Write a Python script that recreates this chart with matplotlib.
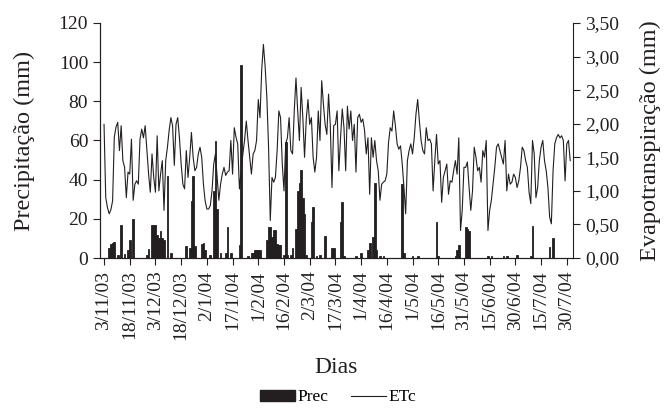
import matplotlib
matplotlib.use('Agg')
import matplotlib.pyplot as plt
import matplotlib.dates as mdates
from matplotlib.patches import Patch
from matplotlib.lines import Line2D
import pandas as pd

# Daily crop evapotranspiration (mm), from 3/11/2003 to 1/8/2004
etc_start = '2003-11-03'
etc_mm = [
    1.99, 0.90, 0.75, 0.66, 0.72, 0.85, 1.80, 1.95, 2.02, 1.60,
    1.97, 1.45, 1.35, 0.90, 1.28, 1.25, 1.77, 0.86, 1.10, 1.15,
    1.10, 1.77, 1.92, 1.79, 1.97, 1.60, 1.25, 0.98, 1.55, 1.20,
    0.98, 1.82, 1.00, 1.25, 1.45, 0.71, 1.45, 1.65, 1.90, 2.09,
    1.97, 1.38, 1.99, 2.09, 1.79, 1.40, 1.10, 1.03, 1.60, 1.20,
    1.50, 1.87, 1.50, 1.30, 1.35, 1.55, 1.65, 1.50, 1.10, 0.85,
    0.73, 0.73, 0.78, 1.00, 1.40, 1.55, 1.20, 0.86, 1.10, 1.25,
    1.35, 1.23, 1.28, 1.30, 1.75, 1.25, 1.94, 1.80, 1.70, 1.03,
    1.30, 1.55, 1.75, 2.04, 1.75, 1.50, 1.25, 1.55, 1.60, 1.75,
    2.36, 2.09, 2.80, 3.18, 2.85, 2.40, 1.65, 0.56, 1.20, 1.13,
    1.20, 1.60, 2.19, 2.09, 1.40, 1.00, 1.70, 1.79, 2.09, 1.60,
    1.55, 2.19, 2.68, 2.19, 1.75, 2.54, 2.09, 1.50, 2.07, 2.36,
    1.99, 2.09, 1.50, 1.28, 1.50, 2.19, 1.75, 2.64, 2.29, 1.99,
    1.84, 2.44, 1.99, 1.05, 1.97, 1.99, 2.19, 1.30, 1.79, 2.22,
    1.94, 1.30, 2.26, 1.92, 2.19, 1.75, 1.99, 1.28, 2.09, 2.14,
    2.02, 2.07, 1.90, 1.55, 1.79, 0.95, 1.79, 1.50, 1.75, 1.45,
    1.30, 0.86, 1.10, 1.13, 1.15, 1.25, 1.72, 1.94, 1.89, 2.19,
    1.97, 1.70, 1.62, 1.67, 1.40, 1.05, 0.66, 1.45, 1.60, 1.70,
    1.55, 1.79, 2.14, 2.36, 2.04, 1.75, 1.60, 1.55, 1.94, 1.75,
    1.77, 1.70, 1.00, 1.45, 1.84, 1.40, 1.45, 0.83, 1.20, 1.30,
    1.40, 0.95, 1.15, 1.13, 1.30, 1.45, 1.25, 1.79, 0.41, 0.71,
    1.35, 1.35, 1.43, 1.05, 0.71, 1.00, 1.65, 1.50, 1.30, 1.35,
    1.13, 1.60, 1.50, 1.75, 0.41, 0.71, 0.86, 1.10, 1.35, 1.65,
    1.70, 1.60, 1.50, 1.40, 1.75, 1.00, 1.25, 1.10, 1.13, 1.25,
    1.20, 1.05, 1.15, 1.35, 1.65, 1.60, 1.45, 1.35, 0.98, 0.81,
    1.75, 1.55, 0.90, 1.05, 1.45, 1.65, 1.75, 1.45, 1.30, 1.05,
    0.61, 0.51, 1.30, 1.70, 1.79, 1.84, 1.79, 1.82, 1.75, 1.15,
    1.70, 1.75, 1.45,
]

# Rain days (mm)
prec_dates = [
    '2003-11-06', '2003-11-07', '2003-11-08', '2003-11-09', '2003-11-11',
    '2003-11-13', '2003-11-15', '2003-11-17', '2003-11-18', '2003-11-20',
    '2003-11-28', '2003-11-29', '2003-12-01', '2003-12-02', '2003-12-03',
    '2003-12-04', '2003-12-05', '2003-12-06', '2003-12-07', '2003-12-08',
    '2003-12-10', '2003-12-12', '2003-12-21', '2003-12-23', '2003-12-24',
    '2003-12-25', '2003-12-26', '2003-12-30', '2003-12-31', '2004-01-01',
    '2004-01-04', '2004-01-06', '2004-01-07', '2004-01-08', '2004-01-10',
    '2004-01-13', '2004-01-14', '2004-01-16', '2004-01-21', '2004-01-22',
    '2004-01-26', '2004-01-28', '2004-01-29', '2004-01-30', '2004-01-31',
    '2004-02-01', '2004-02-02', '2004-02-06', '2004-02-07', '2004-02-08',
    '2004-02-09', '2004-02-10', '2004-02-11', '2004-02-12', '2004-02-13',
    '2004-02-14', '2004-02-16', '2004-02-17', '2004-02-18', '2004-02-20',
    '2004-02-21', '2004-02-23', '2004-02-24', '2004-02-25', '2004-02-26',
    '2004-02-27', '2004-02-28', '2004-02-29', '2004-03-03', '2004-03-04',
    '2004-03-06', '2004-03-08', '2004-03-11', '2004-03-15', '2004-03-16',
    '2004-03-20', '2004-03-21', '2004-03-22', '2004-03-29', '2004-04-01',
    '2004-04-05', '2004-04-06', '2004-04-08', '2004-04-09', '2004-04-10',
    '2004-04-12', '2004-04-14', '2004-04-25', '2004-04-26', '2004-05-01',
    '2004-05-04', '2004-05-15', '2004-05-16', '2004-05-26', '2004-05-27',
    '2004-05-28', '2004-06-01', '2004-06-02', '2004-06-03', '2004-06-14',
    '2004-06-16', '2004-06-23', '2004-06-25', '2004-07-01', '2004-07-09',
    '2004-07-10', '2004-07-20', '2004-07-22',
]
prec_mm = [
    5.3, 7.0, 7.6, 8.0, 1.5,
    17.0, 2.0, 3.9, 9.4, 19.7,
    1.5, 4.5, 17.0, 17.0, 17.0,
    12.0, 10.4, 13.8, 10.4, 9.0,
    41.7, 2.5, 6.3, 5.3, 29.0,
    42.0, 6.3, 7.0, 7.7, 3.9,
    1.5, 34.0, 59.5, 25.0, 2.5,
    2.5, 16.0, 2.5, 6.5, 98.5,
    1.0, 2.5, 2.5, 4.3, 4.3,
    4.3, 4.3, 9.4, 16.1, 16.1,
    10.7, 14.4, 14.4, 7.3, 6.5,
    6.5, 1.5, 59.3, 1.5, 1.4,
    5.0, 14.9, 34.0, 38.3, 44.9,
    30.5, 22.6, 1.4, 18.3, 26.3,
    0.9, 1.5, 11.4, 5.0, 5.0,
    18.3, 28.5, 1.0, 0.9, 2.5,
    4.3, 7.5, 10.7, 38.3, 4.3,
    1.0, 1.0, 37.8, 2.5, 0.9,
    0.9, 18.3, 1.0, 1.0, 4.3,
    6.5, 16.0, 15.0, 13.8, 0.9,
    0.9, 0.9, 0.9, 1.5, 1.0,
    16.6, 5.6, 10.5,
]

tick_dates = pd.date_range('2003-11-03', '2004-07-30', freq='15D')

plt.rcParams['font.family'] = ['Liberation Serif', 'DejaVu Serif']
ink = '#231f20'

fig = plt.figure(figsize=(6.64, 4.09), dpi=100)
ax1 = fig.add_axes([0.1506, 0.369, 0.7124, 0.575])
ax2 = ax1.twinx()

etc_dates = pd.date_range(etc_start, periods=len(etc_mm), freq='D')
ax1.bar(pd.to_datetime(prec_dates), prec_mm, width=1.0, color=ink,
        edgecolor=ink, linewidth=0.6, zorder=2)
ax2.plot(etc_dates, etc_mm, color=ink, lw=0.8, zorder=3)

x0 = mdates.date2num(pd.Timestamp('2003-11-01')) - 0.35
ax1.set_xlim(x0, x0 + 276)
ax1.set_ylim(0, 120)
ax1.set_yticks(range(0, 121, 20))
ax2.set_ylim(0, 3.5)
ax2.set_yticks([i * 0.5 for i in range(8)])
ax2.set_yticklabels([f'{i * 0.5:.2f}'.replace('.', ',') for i in range(8)])

ax1.set_xticks(mdates.date2num(tick_dates))
ax1.set_xticklabels([f'{d.day}/{d.month}/{d.strftime("%y")}' for d in tick_dates],
                    rotation=90)

for ax in (ax1, ax2):
    ax.spines['top'].set_visible(False)
    for s in ax.spines.values():
        s.set_linewidth(0.8)
        s.set_color(ink)
    ax.tick_params(colors=ink, labelsize=14, width=0.8, length=5)
ax1.tick_params(axis='x', pad=4)
ax1.spines['right'].set_visible(False)

ax1.set_ylabel('Precipitação (mm)', fontsize=17.5, color=ink, labelpad=17)
ax2.set_ylabel('Evapotranspiração (mm)', fontsize=17.5, color=ink, labelpad=15)
ax1.set_xlabel('Dias', fontsize=17, color=ink, labelpad=12)

handles = [Patch(facecolor=ink, edgecolor=ink),
           Line2D([0], [0], color=ink, lw=0.8)]
fig.legend(handles, ['Prec', 'ETc'], loc='lower center', ncol=2,
           bbox_to_anchor=(0.509, -0.025), frameon=False, fontsize=12.5,
           handlelength=2.0, handleheight=0.6, handletextpad=0.15,
           columnspacing=1.3, borderpad=0.3)

fig.savefig('out.png', dpi=100)
